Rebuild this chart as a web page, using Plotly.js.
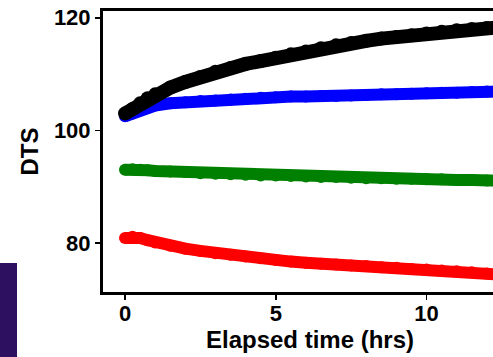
<!DOCTYPE html>
<html>
<head>
<meta charset="utf-8">
<script src="https://cdn.plot.ly/plotly-3.0.1.min.js"></script>
<style>
html,body{margin:0;padding:0;width:493px;height:357px;overflow:hidden;background:#fff;}
#chart{position:absolute;left:0;top:0;}
#band{position:absolute;left:0;top:263px;width:17px;height:94px;background:#2e1060;}
</style>
</head>
<body>
<div id="chart"></div>
<div id="band"></div>
<script>
const timeHrs = [0,0.25,0.5,0.75,1,1.5,2,2.5,3,3.5,4,4.5,5,5.5,6,6.5,7,7.5,8,8.5,9,9.5,10,10.5,11,11.5,12,12.5,13];
const blackSeries = [103.0,103.8,104.8,105.7,106.4,107.6,108.6,109.5,110.4,111.1,111.8,112.3,112.9,113.5,114.0,114.6,115.1,115.5,115.9,116.3,116.6,116.9,117.2,117.5,117.8,118.0,118.2,118.4,118.6];
const blueSeries = [102.5,103.0,103.6,104.0,104.4,104.8,105.0,105.2,105.3,105.5,105.6,105.8,105.9,106.0,106.0,106.1,106.1,106.2,106.3,106.4,106.4,106.5,106.6,106.7,106.7,106.8,106.9,106.9,107.0];
const greenSeries = [93.0,93.1,93.0,92.9,92.8,92.7,92.6,92.4,92.3,92.2,92.1,92.0,92.0,91.9,91.8,91.7,91.7,91.6,91.5,91.5,91.4,91.4,91.3,91.3,91.2,91.2,91.1,91.1,91.0];
const redSeries = [80.9,81.1,80.9,80.5,80.1,79.5,79.0,78.6,78.2,77.9,77.6,77.3,77.0,76.7,76.5,76.3,76.2,76.0,75.9,75.7,75.6,75.4,75.3,75.1,75.0,74.8,74.6,74.4,74.2];
const xTicks = [0,5,10];
const yTicks = [80,100,120];

function tr(y, color, w){
  return {x: timeHrs, y: y, type:'scatter', mode:'lines+markers',
    line:{color:color, width:w}, marker:{color:color, size:w}, hoverinfo:'skip'};
}
const data = [
  tr(redSeries,'#ff0000',12),
  tr(greenSeries,'#008000',12),
  tr(blueSeries,'#0000ff',12),
  tr(blackSeries,'#000000',14)
];
const fontFam = '"Liberation Sans", Arial, sans-serif';
const layout = {
  width:560, height:357,
  margin:{l:103, r:43, t:11, b:65},
  paper_bgcolor:'#ffffff', plot_bgcolor:'#ffffff',
  showlegend:false,
  font:{family:fontFam, color:'#000', size:22},
  xaxis:{range:[-0.73,13], tickvals:xTicks, ticktext:xTicks.map(String),
    showgrid:false, zeroline:false, showline:true, mirror:true, linewidth:3, linecolor:'#000',
    ticks:'outside', ticklen:5, tickwidth:1.5, tickcolor:'#000', ticklabelstandoff:-5,
    tickfont:{family:fontFam, size:22, weight:'bold'},
    title:{text:'Elapsed time (hrs)', font:{family:fontFam, size:24, weight:'bold'}, standoff:0}},
  yaxis:{range:[71.3,121.2], tickvals:yTicks, ticktext:yTicks.map(String),
    showgrid:false, zeroline:false, showline:true, mirror:true, linewidth:3, linecolor:'#000',
    ticks:'outside', ticklen:5, tickwidth:1.5, tickcolor:'#000',
    tickfont:{family:fontFam, size:22, weight:'bold'},
    title:{text:'DTS', font:{family:fontFam, size:24, weight:'bold'}, standoff:9}}
};
Plotly.newPlot('chart', data, layout, {staticPlot:true, displayModeBar:false});
</script>
</body>
</html>
